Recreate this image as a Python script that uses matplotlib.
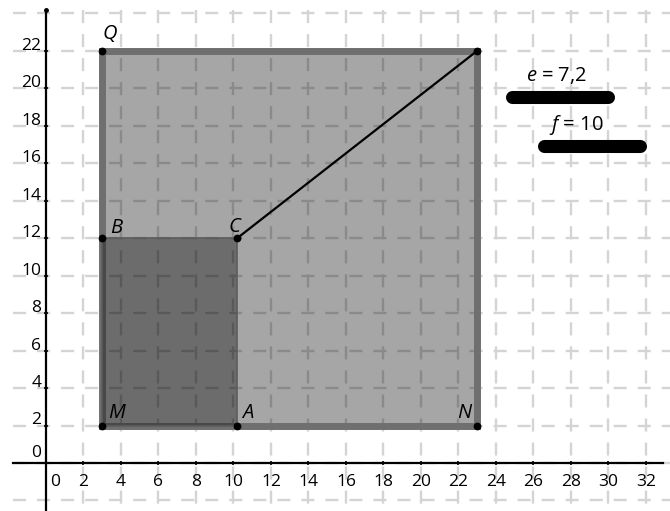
import matplotlib.pyplot as plt
from matplotlib.patches import Polygon

plt.rcParams['font.family'] = ['Open Sans', 'DejaVu Sans']
plt.rcParams['mathtext.fontset'] = 'custom'
plt.rcParams['mathtext.rm'] = 'Open Sans'
plt.rcParams['mathtext.it'] = 'Open Sans:italic'
plt.rcParams['lines.scale_dashes'] = False

# slider values
e = 7.2
f = 10

# points of the construction
M = (3, 2)
N = (23, 2)
Q = (3, 22)
P = (23, 22)
A = (M[0] + e, M[1])
B = (M[0], M[1] + f)
C = (A[0], B[1])

x_ticks = list(range(0, 33, 2))
y_ticks = list(range(0, 23, 2))
grid_x = list(range(2, 33, 2))
grid_y = list(range(-2, 25, 2))

fig = plt.figure(figsize=(6.7, 5.11), dpi=100)
ax = fig.add_axes([0, 0, 1, 1])
ax.set_xlim(-2.453, 33.28)
ax.set_ylim(-2.561, 24.71)
ax.axis('off')

# dashed grid (dashes start at the left / top edge)
grid_style = dict(color='#d4d4d4', lw=1.7, linestyles=[(0, (9.4, 7.9))], zorder=0)
ax.hlines(grid_y, -1.75, 33.3, **grid_style)
ax.vlines(grid_x, 24.17, -2.6, **grid_style)

# axes
ax.axhline(0, xmin=13 / 670, xmax=663 / 670, color='black', lw=1.6, zorder=5)
ax.axvline(0, ymin=0, ymax=1 - 10 / 511, color='black', lw=1.6, zorder=5)
ax.plot([0], [24.17], marker='o', ms=2.5, color='black', zorder=5)
ax.plot(x_ticks[1:], [0] * (len(x_ticks) - 1), ls='none', marker='|',
        ms=3, mew=1.2, color='black', zorder=5)
ax.plot([0] * (len(y_ticks) - 1), y_ticks[1:], ls='none', marker='_',
        ms=3, mew=1.2, color='black', zorder=5)

for x in x_ticks:
    xx = 0.48 if x == 0 else x
    ax.text(xx, -1.0, str(x), ha='center', va='center', fontsize=12.5, zorder=6)
for y in y_ticks:
    yy = 0.55 if y == 0 else y + 0.27
    ax.text(-0.25, yy, str(y), ha='right', va='center', fontsize=12.5, zorder=6)

# big square and small rectangle
big = Polygon([M, N, P, Q], closed=True, facecolor=(0, 0, 0, 0.35),
              edgecolor='#6f6f6f', lw=5, joinstyle='miter', zorder=2)
ax.add_patch(big)
small = Polygon([M, A, C, B], closed=True, facecolor=(0, 0, 0, 0.35),
                edgecolor='#5c5c5c', lw=1.2, zorder=3)
ax.add_patch(small)

# segment C -> top right corner
ax.plot([C[0], P[0]], [C[1], P[1]], color='black', lw=1.6, zorder=4)

pts = [Q, B, C, M, A, N, P]
ax.plot([p[0] for p in pts], [p[1] for p in pts], ls='none', marker='o',
        ms=4.6, color='black', zorder=6)

# point names
names = [('Q', Q, 0.41, 0.63), ('B', B, 0.73, 0.27), ('C', C, -0.17, 0.33),
         ('M', M, 0.79, 0.40), ('A', A, 0.57, 0.40), ('N', N, -0.71, 0.40)]
for name, p, dx, dy in names:
    ax.text(p[0] + dx, p[1] + dy, name, ha='center', va='baseline',
            fontsize=14.5, style='italic', zorder=6)

# sliders
ax.plot([24.83, 30.0], [19.55, 19.55], color='black', lw=9.4,
        solid_capstyle='round', zorder=6)
ax.plot([26.54, 31.7], [16.9, 16.9], color='black', lw=9.4,
        solid_capstyle='round', zorder=6)
ax.text(27.25, 20.7, r'$e$ = ' + str(e).replace('.', ','), ha='center',
        va='center', fontsize=14.5, zorder=6)
ax.text(28.3, 18.04, r'$f$ = ' + str(f), ha='center', va='center',
        fontsize=14.5, zorder=6)

fig.savefig('out.png', dpi=100)
